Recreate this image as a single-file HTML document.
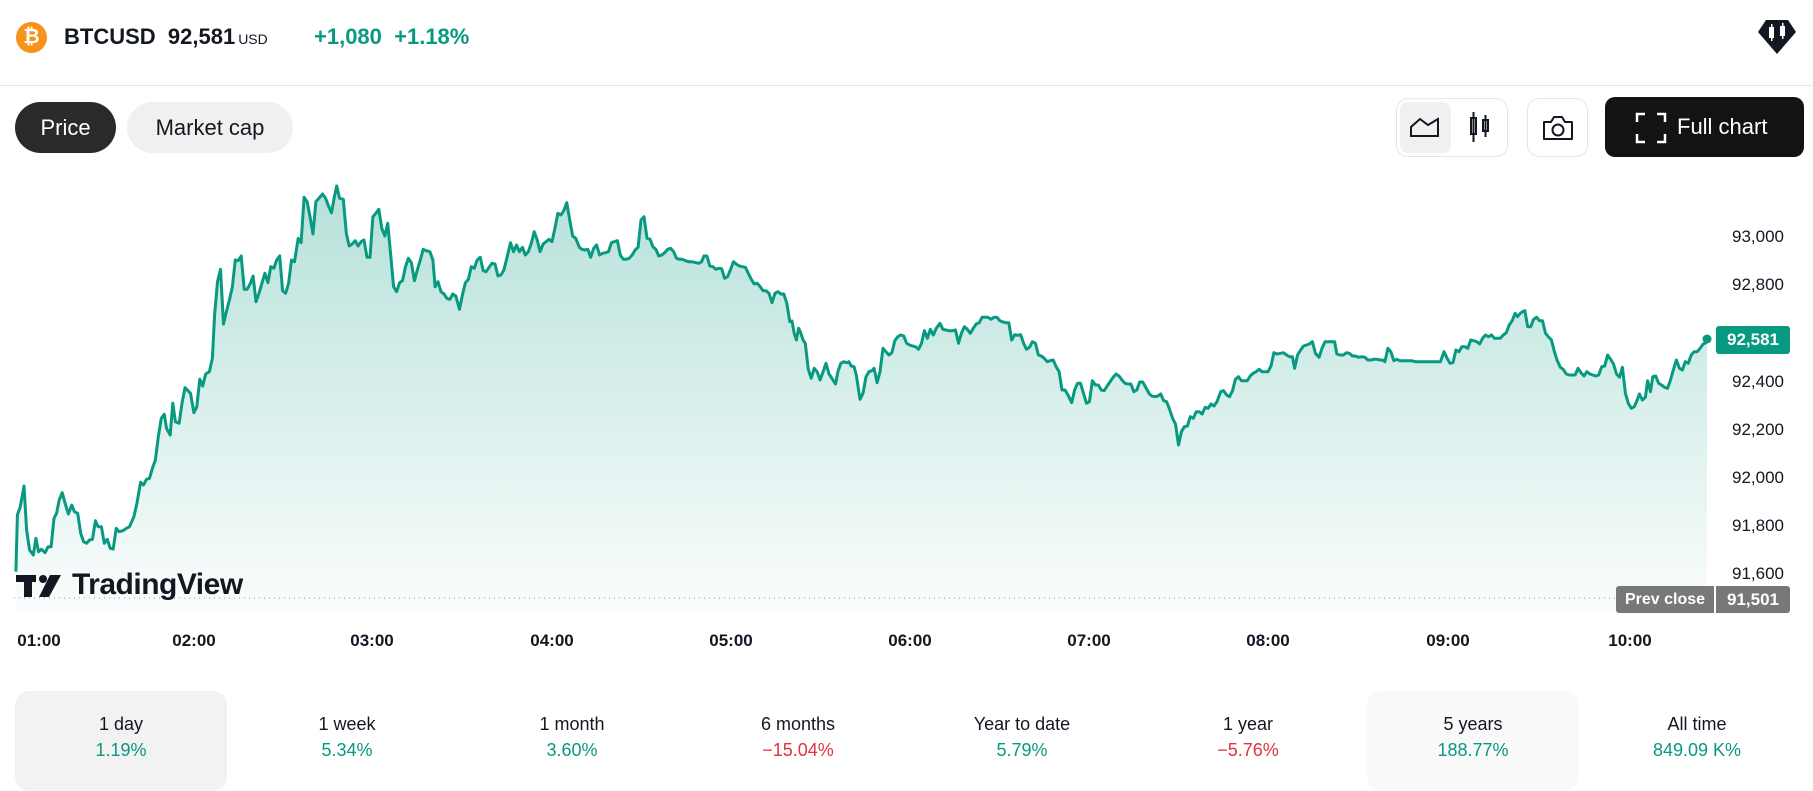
<!DOCTYPE html>
<html><head><meta charset="utf-8"><style>
*{margin:0;padding:0;box-sizing:border-box}
body{width:1813px;height:783px;background:#fff;font-family:"Liberation Sans",sans-serif;color:#131722;position:relative;overflow:hidden}
.a{position:absolute;white-space:nowrap}
.btn{position:absolute;border-radius:26px;font-size:22px;display:flex;align-items:center;justify-content:center}
.yl{position:absolute;right:29px;font-size:17px;color:#131722;transform:translateY(-50%)}
.xl{position:absolute;top:631px;font-size:17px;font-weight:bold;transform:translateX(-50%)}
.col{position:absolute;top:691px;height:100px;width:212px;text-align:center;font-size:18px;border-radius:14px;transform:translateX(-50%)}
.col .l{margin-top:23px}
.col .v{margin-top:5px;color:#089981}
.col .v.r{color:#e03240}
</style></head><body>
<div class="a" style="left:16px;top:22px;width:31px;height:31px;border-radius:50%;background:#f7931a;color:#fff;font-weight:bold;font-size:20px;text-align:center;line-height:31px">₿</div>
<div class="a" style="left:64px;top:24px;font-size:22px;font-weight:bold">BTCUSD&nbsp; 92,581<span style="font-size:14px;font-weight:normal;margin-left:3px">USD</span></div>
<div class="a" style="left:314px;top:24px;font-size:22px;font-weight:bold;color:#089981">+1,080&nbsp; +1.18%</div>
<svg class="a" style="left:1757px;top:18px" width="40" height="38" viewBox="0 0 40 38"><polygon points="9,2 31,2 39,14 20,36 1,14" fill="#131722"/><rect x="12" y="9" width="5" height="11" fill="#fff"/><rect x="23" y="8" width="5" height="10" fill="#fff"/><rect x="14" y="6" width="1.5" height="17" fill="#fff"/><rect x="25" y="5" width="1.5" height="16" fill="#fff"/></svg>
<div class="a" style="left:0;top:85px;width:1813px;height:1px;background:#e6e6e6"></div>
<div class="btn" style="left:15px;top:102px;width:101px;height:51px;background:#2a2a2a;color:#fff">Price</div>
<div class="btn" style="left:127px;top:102px;width:166px;height:51px;background:#f0f0f0">Market cap</div>
<div class="a" style="left:1396px;top:98px;width:112px;height:59px;border:1px solid #e6e6e6;border-radius:12px"></div>
<div class="a" style="left:1400px;top:102px;width:51px;height:51px;background:#f0f0f0;border-radius:8px"></div>
<svg class="a" style="left:1409px;top:114px" width="32" height="26"><path d="M2,22 V13 L11,5 L19,11 L29,5 V22 Z" fill="none" stroke="#131722" stroke-width="2"/></svg>
<svg class="a" style="left:1467px;top:110px" width="26" height="34"><rect x="4" y="8" width="5" height="16" fill="none" stroke="#131722" stroke-width="2"/><line x1="6.5" y1="2" x2="6.5" y2="32" stroke="#131722" stroke-width="2"/><rect x="16" y="10" width="5" height="11" fill="none" stroke="#131722" stroke-width="2"/><line x1="18.5" y1="5" x2="18.5" y2="27" stroke="#131722" stroke-width="2"/></svg>
<div class="a" style="left:1527px;top:98px;width:61px;height:59px;border:1px solid #e6e6e6;border-radius:12px"></div>
<svg class="a" style="left:1541px;top:114px" width="34" height="28"><path d="M3,8 H10 L13,3 H21 L24,8 H31 V25 H3 Z" fill="none" stroke="#131722" stroke-width="2" stroke-linejoin="round"/><circle cx="17" cy="16" r="5.5" fill="none" stroke="#131722" stroke-width="2"/></svg>
<div class="a" style="left:1605px;top:97px;width:199px;height:60px;background:#131313;border-radius:10px"></div>
<svg class="a" style="left:1635px;top:112px" width="32" height="32"><path d="M2,10 V2 H10 M22,2 H30 V10 M30,22 V30 H22 M10,30 H2 V22" fill="none" stroke="#fff" stroke-width="2.5"/></svg>
<div class="a" style="left:1677px;top:114px;font-size:22px;color:#fff">Full chart</div>

<svg class="a" style="left:0;top:0" width="1813" height="783" id="ch">
<defs><linearGradient id="g" x1="0" y1="180" x2="0" y2="610" gradientUnits="userSpaceOnUse"><stop offset="0" stop-color="#089981" stop-opacity="0.3"/><stop offset="1" stop-color="#089981" stop-opacity="0.02"/></linearGradient></defs>
<line x1="14" y1="598" x2="1616" y2="598" stroke="#9598a1" stroke-width="1" stroke-dasharray="1,4"/>
<path id="fill" fill="url(#g)"/>
<path id="ln" fill="none" stroke="#089981" stroke-width="3" stroke-linejoin="round"/>
<circle cx="1707" cy="339" r="4.5" fill="#089981"/>
</svg>
<svg class="a" style="left:16px;top:573px" width="48" height="26"><rect x="0" y="2" width="20" height="7" fill="#131722"/><rect x="8" y="2" width="8" height="22" fill="#131722"/><circle cx="27" cy="6" r="4" fill="#131722"/><polygon points="34,2 45,2 33,24 23,24" fill="#131722"/></svg>
<div class="a" style="left:72px;top:568px;font-size:30px;font-weight:bold;letter-spacing:-0.5px">TradingView</div>

<div class="yl" style="top:237px">93,000</div>
<div class="yl" style="top:285px">92,800</div>
<div class="yl" style="top:382px">92,400</div>
<div class="yl" style="top:430px">92,200</div>
<div class="yl" style="top:478px">92,000</div>
<div class="yl" style="top:526px">91,800</div>
<div class="yl" style="top:574px">91,600</div>
<div class="a" style="left:1716px;top:326px;width:74px;height:28px;background:#089981;border-radius:3px;color:#fff;font-size:17px;font-weight:bold;text-align:center;line-height:28px">92,581</div>
<div class="a" style="left:1616px;top:586px;width:98px;height:27px;background:#787878;border-radius:3px 0 0 3px;color:#fff;font-size:16px;font-weight:bold;text-align:center;line-height:27px">Prev close</div>
<div class="a" style="left:1716px;top:586px;width:74px;height:27px;background:#787878;border-radius:0 3px 3px 0;color:#fff;font-size:17px;font-weight:bold;text-align:center;line-height:27px">91,501</div>

<div class="xl" style="left:39px">01:00</div>
<div class="xl" style="left:194px">02:00</div>
<div class="xl" style="left:372px">03:00</div>
<div class="xl" style="left:552px">04:00</div>
<div class="xl" style="left:731px">05:00</div>
<div class="xl" style="left:910px">06:00</div>
<div class="xl" style="left:1089px">07:00</div>
<div class="xl" style="left:1268px">08:00</div>
<div class="xl" style="left:1448px">09:00</div>
<div class="xl" style="left:1630px">10:00</div>

<div class="col" style="left:121px;background:#f2f2f2"><div class="l">1 day</div><div class="v">1.19%</div></div>
<div class="col" style="left:347px"><div class="l">1 week</div><div class="v">5.34%</div></div>
<div class="col" style="left:572px"><div class="l">1 month</div><div class="v">3.60%</div></div>
<div class="col" style="left:798px"><div class="l">6 months</div><div class="v r">−15.04%</div></div>
<div class="col" style="left:1022px"><div class="l">Year to date</div><div class="v">5.79%</div></div>
<div class="col" style="left:1248px"><div class="l">1 year</div><div class="v r">−5.76%</div></div>
<div class="col" style="left:1473px;background:#f9f9f9"><div class="l">5 years</div><div class="v">188.77%</div></div>
<div class="col" style="left:1697px"><div class="l">All time</div><div class="v">849.09 K%</div></div>

<script>
var A=[43,1205,47,1035,55,1010,65,948,72,1080,80,1140,90,1155,97,1105,104,1145,112,1138,122,1148,130,1130,138,1130,146,1045,153,1030,160,990,168,968,176,1000,185,1032,194,1005,201,1025,210,1030,218,1090,226,1115,234,1120,242,1110,250,1108,258,1052,265,1070,274,1070,282,1120,290,1108,298,1135,306,1137,314,1075,322,1085,332,1082,342,1075,350,1070,362,1040,370,1000,380,937,388,945,396,928,404,925,412,895,420,870,428,800,436,745,444,733,450,775,460,795,467,700,474,755,484,760,492,700,500,653,515,670,524,728,532,710,540,628,548,648,556,612,566,605,574,565,580,435,588,335,596,298,604,462,612,425,620,390,628,352,636,270,644,272,652,258,660,358,668,358,676,342,684,318,692,395,700,370,708,340,716,310,724,338,732,290,740,295,748,270,756,258,764,362,772,370,780,340,788,270,796,275,806,205,814,218,822,82,830,95,838,140,846,192,854,95,862,85,872,72,880,85,888,108,896,128,904,80,910,48,918,85,928,88,936,190,944,228,952,222,960,212,968,228,976,215,984,210,992,262,1000,262,1008,140,1016,130,1024,118,1032,175,1040,198,1048,160,1056,255,1064,350,1072,365,1080,338,1088,332,1096,290,1104,265,1112,278,1120,332,1128,300,1136,270,1144,238,1152,242,1162,245,1170,270,1176,350,1184,335,1192,365,1200,372,1208,385,1216,388,1224,372,1232,378,1242,418,1250,375,1258,338,1266,328,1274,290,1282,295,1290,270,1298,262,1306,302,1314,305,1322,292,1330,280,1338,282,1346,318,1354,315,1362,300,1370,265,1380,218,1388,245,1396,225,1404,245,1412,232,1420,255,1428,245,1436,220,1444,185,1452,210,1460,245,1468,222,1476,215,1484,208,1492,215,1500,175,1508,130,1516,135,1524,122,1532,98,1540,150,1548,198,1556,205,1566,232];
var B=[32,238,40,240,48,238,56,262,64,235,72,225,80,255,88,250,96,248,104,245,112,218,120,215,128,212,136,255,144,268,152,268,160,265,168,255,176,240,184,232,192,150,200,140,208,205,216,207,224,230,232,238,240,258,248,255,256,248,264,238,272,235,280,245,288,265,296,268,304,268,312,272,320,275,330,275,340,278,348,280,356,275,362,258,370,258,378,288,386,290,394,298,402,295,410,296,418,325,426,320,434,298,442,275,450,283,458,288,466,290,474,292,482,310,490,328,498,342,506,340,514,350,522,362,530,362,538,370,546,398,554,370,562,365,570,372,578,372,586,400,594,455,600,453,606,490,612,510,618,475,624,490,630,510,636,520,640,560,644,598,652,625,660,595,668,605,676,630,684,605,692,580,700,612,708,625,718,642,724,605,732,580,740,575,748,578,754,575,760,588,768,590,774,615,784,688,792,670,800,620,808,605,816,602,822,595,830,638,838,605,846,535,854,545,862,555,870,548,878,512,886,500,894,495,902,498,910,520,918,525,926,528,934,530,942,538,950,520,958,482,966,505,974,478,982,495,990,475,1000,460,1008,478,1016,480,1024,482,1034,482,1042,480,1050,520,1058,490,1066,470,1074,478,1082,490,1090,475,1098,462,1106,458,1114,442,1122,442,1130,442,1138,448,1146,442,1154,442,1162,452,1170,456,1178,458,1186,458,1194,510,1202,494,1210,496,1218,494,1226,520,1234,538,1242,532,1250,515,1258,520,1266,555,1274,558,1282,565,1290,575,1298,572,1306,570,1314,590,1322,605,1330,660,1338,660,1346,675,1356,698,1364,660,1372,640,1380,640,1388,670,1396,700,1404,695,1412,632,1420,645,1428,645,1436,660,1444,662,1452,648,1460,635,1468,622,1476,612,1484,618,1492,630,1500,640,1508,642,1516,642,1524,665,1532,660,1540,636,1548,636,1556,652,1566,672];
var C=[32,678,40,680,48,678,56,672,64,692,72,695,80,718,88,745,96,762,104,825,112,785,120,770,128,768,136,740,144,745,152,725,160,725,168,732,176,712,184,715,192,702,200,708,208,695,218,665,226,662,234,675,242,680,250,662,258,628,266,620,274,632,282,632,290,632,298,618,306,610,314,605,322,598,330,605,338,605,346,605,354,588,362,548,370,552,380,550,388,548,396,555,404,560,412,560,418,595,426,555,434,540,442,528,450,525,458,522,466,515,474,550,484,562,492,535,500,515,510,515,520,515,526,515,532,552,540,555,550,555,558,548,566,550,574,558,582,558,590,562,600,560,608,562,616,570,624,570,632,568,640,568,650,570,656,570,662,575,670,535,678,545,686,572,694,568,702,572,712,572,722,572,734,572,744,575,760,575,780,575,800,575,812,575,822,545,830,565,838,580,846,578,854,540,862,545,870,530,878,530,886,535,894,510,902,512,910,515,918,522,926,505,934,495,942,500,950,495,958,505,966,505,974,505,982,495,990,488,998,465,1006,452,1014,430,1020,440,1026,432,1034,425,1040,422,1048,470,1056,470,1064,448,1072,442,1080,452,1088,452,1096,490,1104,500,1112,510,1120,545,1128,572,1136,592,1144,598,1152,612,1160,615,1168,615,1176,615,1184,595,1192,608,1200,618,1208,605,1216,612,1224,615,1232,618,1240,615,1248,590,1256,588,1264,555,1272,568,1280,582,1288,612,1296,622,1304,592,1312,670,1320,700,1328,715,1336,710,1344,690,1350,672,1358,690,1366,682,1372,632,1380,665,1386,620,1394,618,1402,640,1410,645,1418,652,1426,655,1434,630,1442,598,1450,570,1458,595,1466,600,1474,575,1482,580,1490,555,1498,545,1506,545,1514,535,1522,522,1530,518,1533,508];
var P=[];
function add(a,x0){for(var i=0;i<a.length;i+=2)P.push([x0+a[i]/2.703,170+a[i+1]/3]);}
add(A,0);add(B,570);add(C,1140);
P[P.length-1]=[1707,339];
var d=P.map(function(p,i){return(i?'L':'M')+p[0].toFixed(1)+','+p[1].toFixed(1)}).join('');
document.getElementById('ln').setAttribute('d',d);
document.getElementById('fill').setAttribute('d',d+'L1707,610L'+P[0][0].toFixed(1)+',610Z');
</script>
</body></html>
